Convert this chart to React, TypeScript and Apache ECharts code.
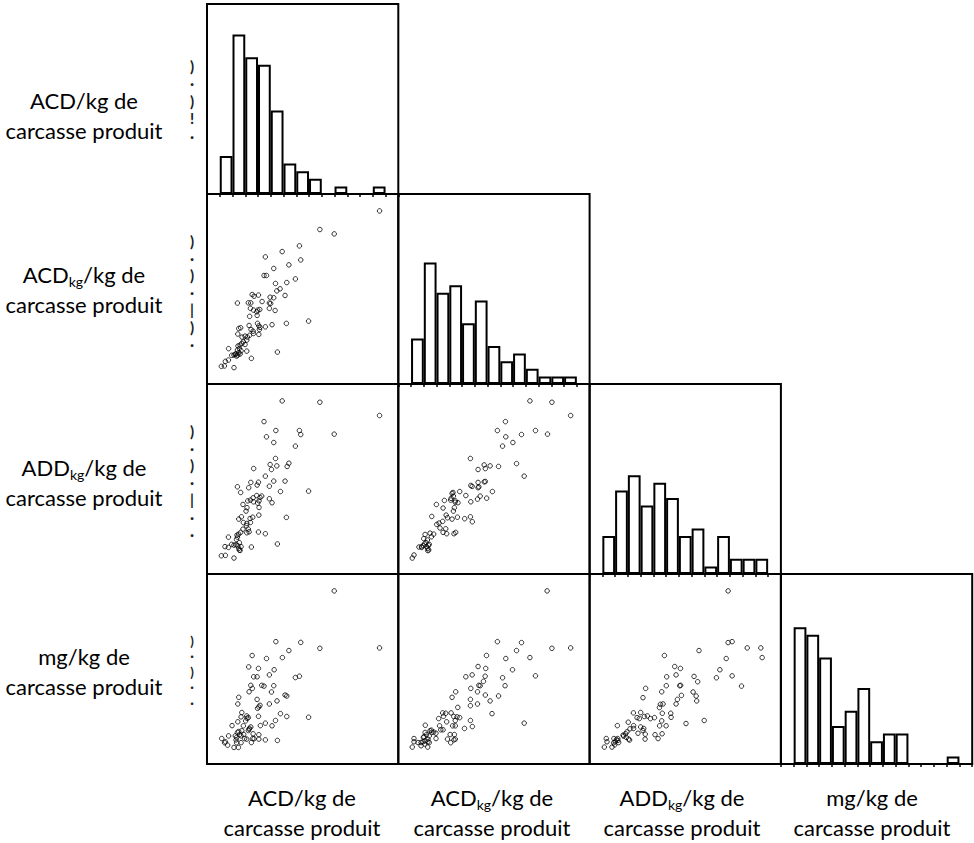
import React, { useEffect, useRef } from "react";
import * as echarts from "echarts";

// Histogram counts per bin (15 equal-width bins spanning each variable's axis)
const binLabels = ["1", "2", "3", "4", "5", "6", "7", "8", "9", "10", "11", "12", "13", "14", "15"];
const histMax = 25;
const histAcd = [0, 5, 21, 18, 17, 11, 4, 3, 2, 0, 1, 0, 0, 1, 0];
const histAcdKg = [0, 6, 16, 12, 13, 8, 11, 5, 3, 4, 2, 1, 1, 1, 0];
const histAddKg = [0, 5, 11, 13, 9, 12, 10, 5, 6, 1, 5, 2, 2, 2, 0];
const histMg = [0, 18, 17, 14, 5, 7, 10, 3, 4, 4, 0, 0, 0, 1, 0];

// Pairwise values on a common 0–100 scale per variable: [x, y]
const acdKgVsAcd = [
  [90.2, 91.1], [59.0, 81.3], [66.5, 79.0], [48.3, 72.7], [39.3, 69.7], [49.0, 65.3], [30.5, 66.9], [42.8, 62.7],
  [34.9, 60.8], [29.8, 57.1], [31.1, 57.1], [46.2, 55.3], [41.7, 53.4], [35.8, 52.9], [38.2, 50.1], [36.5, 49.0],
  [40.8, 46.6], [23.6, 47.1], [24.6, 46.2], [26.9, 46.8], [33.0, 45.7], [34.9, 45.4], [15.9, 42.6], [21.6, 42.7],
  [22.9, 42.7], [28.8, 43.4], [33.3, 42.4], [32.6, 42.6], [22.7, 39.8], [24.3, 38.9], [26.5, 38.9], [27.6, 39.2],
  [26.0, 38.0], [32.6, 39.8], [35.6, 38.7], [22.3, 35.6], [26.2, 36.1], [53.1, 33.1], [41.5, 31.9], [34.0, 31.2],
  [26.4, 31.9], [27.1, 30.6], [27.7, 29.8], [27.4, 28.7], [30.5, 30.1], [22.0, 30.8], [16.6, 29.2], [17.6, 29.6],
  [23.0, 28.7], [24.1, 27.8], [16.1, 26.3], [18.3, 24.7], [19.9, 25.2], [21.1, 24.7], [22.2, 25.6], [27.1, 26.1],
  [24.3, 26.6], [19.0, 22.2], [20.8, 23.1], [19.9, 20.8], [18.2, 21.4], [17.3, 20.5], [16.2, 20.0], [16.9, 18.7],
  [15.9, 17.9], [17.8, 17.5], [16.6, 16.5], [15.2, 15.9], [15.5, 14.7], [14.7, 15.6], [17.3, 15.8], [16.1, 15.2],
  [20.8, 17.3], [11.3, 18.6], [12.9, 15.1], [14.1, 15.2], [36.8, 16.8], [23.2, 13.5], [11.2, 12.6], [9.6, 11.9],
  [9.1, 9.5], [7.5, 9.3], [14.1, 8.6],
];

const addKgVsAcd = [
  [39.3, 91.1], [59.0, 90.4], [90.2, 83.4], [29.8, 80.2], [36.0, 75.5], [48.3, 75.5], [49.0, 73.4], [66.5, 73.6],
  [31.1, 72.2], [34.9, 69.2], [46.2, 67.3], [35.8, 60.8], [33.0, 57.6], [36.5, 56.9], [33.7, 55.0], [41.9, 56.6],
  [42.8, 58.3], [24.4, 55.5], [30.5, 51.5], [34.9, 48.9], [40.8, 48.9], [22.9, 48.2], [26.9, 48.3], [26.2, 46.8],
  [21.8, 45.4], [32.6, 46.2], [38.4, 43.4], [53.1, 43.6], [15.9, 45.9], [17.6, 42.9], [26.0, 41.3], [28.6, 41.0],
  [27.7, 40.3], [24.1, 40.1], [22.7, 38.9], [21.3, 38.5], [27.2, 38.5], [26.5, 37.3], [32.6, 39.6], [34.0, 37.5],
  [18.8, 36.6], [20.9, 34.9], [27.2, 35.0], [27.1, 31.0], [41.5, 29.8], [16.6, 28.9], [18.0, 30.1], [19.0, 27.1],
  [20.8, 26.6], [22.5, 29.2], [23.9, 29.9], [22.7, 27.1], [20.6, 25.4], [26.9, 22.1], [30.5, 21.2], [18.8, 23.6],
  [21.6, 23.6], [20.8, 21.7], [22.0, 22.2], [17.6, 21.9], [16.6, 21.0], [15.7, 20.5], [15.4, 18.2], [11.2, 19.4],
  [16.9, 16.5], [16.1, 14.9], [17.8, 14.4], [15.2, 15.4], [16.6, 13.5], [17.3, 12.4], [14.1, 15.2], [12.9, 15.6],
  [11.2, 14.0], [9.4, 14.4], [23.2, 14.2], [36.8, 15.8], [9.6, 9.8], [7.5, 9.6], [14.1, 8.4], [16.9, 12.6],
  [15.9, 19.4], [20.4, 33.1], [24.3, 38.0],
];

const mgVsAcd = [
  [66.5, 91.1], [36.0, 64.4], [49.0, 64.0], [59.0, 60.9], [90.2, 61.1], [42.8, 59.7], [23.6, 57.1], [31.1, 55.5],
  [39.4, 56.0], [21.8, 51.1], [26.9, 50.3], [35.1, 49.6], [32.6, 46.9], [24.4, 45.9], [26.2, 45.9], [46.2, 45.5],
  [48.3, 46.2], [22.9, 41.4], [23.7, 39.8], [28.6, 41.4], [29.8, 41.0], [34.9, 41.2], [22.0, 38.0], [33.7, 37.9],
  [40.8, 36.3], [41.7, 35.8], [16.6, 35.1], [26.2, 34.0], [16.1, 31.6], [27.7, 30.9], [27.1, 30.0], [26.4, 29.3],
  [32.6, 31.6], [36.6, 33.2], [18.2, 27.1], [20.8, 25.3], [20.9, 24.1], [21.6, 24.4], [17.8, 24.8], [26.9, 25.1],
  [38.4, 26.5], [41.7, 25.0], [53.1, 24.6], [16.1, 22.2], [13.1, 20.2], [19.0, 20.1], [22.9, 19.5], [22.0, 18.3],
  [16.6, 17.1], [15.9, 16.6], [18.2, 17.5], [17.1, 15.5], [27.9, 20.2], [30.5, 21.5], [34.0, 20.1], [35.8, 22.9],
  [11.3, 14.8], [14.8, 14.8], [15.5, 14.0], [17.8, 14.8], [19.2, 15.5], [20.8, 13.1], [24.1, 15.9], [27.1, 15.4],
  [24.6, 13.3], [27.1, 13.1], [30.5, 12.7], [36.8, 12.4], [23.2, 11.3], [7.7, 13.4], [9.6, 11.7], [9.2, 11.2],
  [10.8, 9.9], [14.1, 8.7], [16.4, 8.7], [15.5, 11.2], [17.8, 11.2], [21.6, 17.6], [22.2, 18.8], [19.7, 13.4],
  [23.9, 13.4], [15.2, 12.7], [20.2, 22.7],
];

const addKgVsAcdKg = [
  [68.8, 91.1], [80.3, 90.4], [90.1, 83.4], [56.0, 80.2], [51.8, 75.5], [56.2, 72.2], [64.4, 73.4], [71.7, 75.5],
  [78.0, 73.6], [59.9, 69.2], [54.5, 67.3], [37.7, 60.8], [41.7, 55.0], [44.9, 57.4], [45.5, 55.5], [48.0, 56.9],
  [52.4, 56.6], [61.8, 58.1], [65.8, 51.5], [45.5, 48.7], [44.9, 48.5], [41.7, 48.2], [41.7, 45.4], [42.1, 45.9],
  [37.9, 46.6], [38.6, 46.1], [49.2, 43.4], [46.2, 39.9], [42.8, 41.0], [41.4, 39.4], [37.9, 38.0], [35.3, 41.3],
  [32.1, 43.4], [28.6, 42.9], [28.8, 41.0], [27.4, 38.9], [29.8, 38.5], [31.2, 37.5], [29.3, 34.9], [24.1, 38.7],
  [19.9, 36.6], [23.4, 34.7], [17.5, 30.3], [25.0, 31.0], [25.7, 29.6], [28.1, 28.9], [30.9, 29.9], [34.7, 29.1],
  [37.7, 30.1], [38.7, 27.5], [23.2, 27.7], [21.3, 26.8], [20.1, 26.1], [21.8, 24.2], [24.8, 23.8], [23.4, 21.9],
  [25.3, 21.2], [29.1, 21.2], [30.0, 21.9], [14.0, 20.8], [16.6, 21.5], [18.5, 21.0], [17.3, 19.6], [13.3, 18.6],
  [14.5, 16.5], [15.7, 15.2], [15.4, 13.5], [15.4, 12.3], [16.2, 15.6], [13.6, 15.8], [12.2, 14.4], [10.8, 14.2],
  [15.2, 17.9], [8.2, 10.0], [7.3, 8.4], [12.2, 14.0], [14.8, 14.4], [13.1, 14.9], [15.9, 12.6], [28.8, 33.1],
  [27.6, 39.8], [29.7, 37.8], [28.1, 42.4],
];

const mgVsAcdKg = [
  [77.8, 91.1], [51.8, 64.4], [64.4, 63.9], [80.3, 60.9], [90.1, 61.1], [61.8, 59.7], [46.1, 57.1], [56.2, 55.5],
  [68.8, 56.0], [71.7, 46.4], [59.7, 49.6], [54.5, 45.4], [55.8, 41.2], [35.3, 45.9], [38.6, 46.9], [41.7, 51.3],
  [45.7, 50.3], [45.4, 46.2], [44.5, 43.5], [42.1, 41.4], [42.8, 41.2], [41.4, 38.0], [37.9, 39.8], [30.0, 38.0],
  [28.1, 35.1], [37.7, 34.0], [37.7, 30.7], [41.4, 31.6], [45.5, 36.3], [48.0, 33.2], [52.4, 35.8], [49.0, 26.5],
  [65.8, 21.5], [31.1, 29.8], [24.8, 26.7], [23.2, 26.9], [27.6, 26.9], [23.6, 25.1], [25.3, 22.2], [21.1, 23.9],
  [29.0, 25.0], [30.7, 24.8], [32.1, 24.4], [21.6, 20.1], [23.4, 18.0], [28.4, 20.1], [29.8, 20.1], [34.6, 18.7],
  [37.7, 22.9], [38.7, 19.7], [14.1, 20.4], [17.3, 17.8], [18.5, 16.8], [19.7, 16.2], [14.0, 16.6], [14.7, 15.4],
  [16.2, 14.8], [15.5, 13.1], [15.5, 11.7], [13.1, 14.0], [11.9, 11.3], [12.9, 11.7], [14.0, 12.2], [10.3, 11.3],
  [11.9, 9.6], [8.2, 13.4], [8.2, 11.7], [7.3, 8.9], [19.7, 13.4], [22.2, 18.0], [25.7, 13.1], [27.1, 15.5],
  [29.3, 15.5], [29.1, 12.7], [29.8, 13.1], [27.4, 11.2], [15.4, 8.9], [17.5, 16.6], [16.6, 17.5], [16.2, 11.3],
  [13.8, 10.5], [13.4, 14.3], [29.8, 22.9],
];

const mgVsAddKg = [
  [72.4, 91.1], [72.4, 63.9], [74.5, 64.4], [82.4, 61.1], [89.5, 61.1], [90.2, 56.0], [57.2, 59.7], [71.4, 55.5],
  [39.1, 57.1], [68.1, 49.6], [66.3, 45.4], [74.5, 46.4], [79.4, 41.0], [44.5, 51.3], [47.5, 50.3], [45.2, 46.9],
  [40.3, 45.9], [54.6, 46.1], [56.5, 43.3], [40.1, 41.2], [47.1, 41.2], [47.6, 41.4], [37.7, 38.0], [29.3, 39.8],
  [27.9, 34.9], [48.0, 36.1], [45.9, 34.0], [45.2, 31.6], [54.1, 37.9], [55.7, 35.8], [56.0, 33.2], [37.0, 31.4],
  [36.5, 29.7], [38.4, 31.6], [50.4, 21.3], [59.9, 22.9], [38.0, 26.7], [42.4, 26.7], [42.6, 24.6], [37.7, 22.7],
  [40.0, 20.1], [36.6, 20.1], [33.9, 24.4], [22.9, 26.9], [26.7, 27.1], [26.0, 23.9], [28.6, 25.0], [30.2, 25.3],
  [23.0, 20.2], [26.7, 19.5], [28.3, 18.7], [25.3, 16.2], [29.1, 15.7], [29.0, 13.1], [34.2, 15.4], [35.8, 13.4],
  [37.9, 15.9], [20.2, 22.0], [14.5, 20.2], [21.1, 18.5], [17.5, 15.2], [18.8, 15.9], [19.5, 16.9], [20.4, 13.1],
  [20.9, 12.6], [14.0, 12.9], [13.4, 11.7], [14.7, 13.4], [12.6, 11.2], [11.7, 8.9], [8.7, 13.4], [9.1, 11.7],
  [7.7, 8.9], [15.2, 11.3], [17.8, 14.7], [19.2, 14.0], [31.8, 23.9], [24.8, 24.4], [13.1, 10.1], [27.9, 17.6],
  [23.0, 18.7], [14.8, 12.4], [12.7, 13.4],
];

// Variable names: [main, subscript]
const varNames: [string, string][] = [
  ["ACD", ""],
  ["ACD", "kg"],
  ["ADD", "kg"],
  ["mg", ""],
];
const unitText = "/kg de";
const secondLine = "carcasse produit";

const histograms = [histAcd, histAcdKg, histAddKg, histMg];
// scatter[row][col] for the lower triangle
const scatters: Record<string, number[][]> = {
  "1-0": acdKgVsAcd,
  "2-0": addKgVsAcd,
  "3-0": mgVsAcd,
  "2-1": addKgVsAcdKg,
  "3-1": mgVsAcdKg,
  "3-2": mgVsAddKg,
};

// Clipped vertical axis label fragments to the left of each row
const edgeMarks: string[] = [
  ")\n·\n)\n!\n·",
  ")\n·\n)\n·\n|\n)\n·",
  ")\n·\n)\n·\n|\n·\n·",
  ")\n·\n)\n·\n·",
];
const edgeMarkTop = [57, 232, 422, 633];
const edgeMarkStep = [17.5, 17.2, 17.2, 15.5];
const edgeMarkSize = [15, 15, 15, 13];

const FONT = "Lato, 'Open Sans', sans-serif";
const PANEL_LEFT = 207;
const PANEL_TOP = 4;
const PANEL_W = 191.3;
const PANEL_H = 190;

const rowLabelX = 84;
const rowLabelY = [115, 289, 482, 671];
const colLabelX = [302, 492, 682, 872];
const colLabelY = 812;

function labelText(k: number) {
  const [main, sub] = varNames[k];
  const first = sub ? `{n|${main}}{s|${sub}}{n|${unitText}}` : `{n|${main}${unitText}}`;
  return `${first}\n{n|${secondLine}}`;
}

const richStyle = {
  n: { fontFamily: FONT, fontSize: 22, lineHeight: 30, color: "#000" },
  s: { fontFamily: FONT, fontSize: 14, lineHeight: 15, height: 15, verticalAlign: "bottom", color: "#000" },
};

function buildOption() {
  const grid: any[] = [];
  const xAxis: any[] = [];
  const yAxis: any[] = [];
  const series: any[] = [];

  for (let i = 0; i < 4; i++) {
    for (let j = 0; j <= i; j++) {
      const gi = grid.length;
      grid.push({
        left: PANEL_LEFT + j * PANEL_W,
        top: PANEL_TOP + i * PANEL_H,
        width: PANEL_W,
        height: PANEL_H,
        show: true,
        borderColor: "#000",
        borderWidth: 2,
        backgroundColor: "transparent",
      });
      if (i === j) {
        xAxis.push({
          type: "category",
          gridIndex: gi,
          data: binLabels,
          boundaryGap: true,
          axisLine: { show: true, lineStyle: { color: "#000", width: 2 } },
          axisTick: { show: true, interval: 0, length: 3, lineStyle: { color: "#000", width: 1.5 } },
          axisLabel: { show: false, interval: 0 },
          splitLine: { show: false },
        });
        yAxis.push({ type: "value", gridIndex: gi, min: 0, max: histMax, show: false, splitLine: { show: false } });
        series.push({
          type: "bar",
          xAxisIndex: gi,
          yAxisIndex: gi,
          data: histograms[i],
          barCategoryGap: "0%",
          itemStyle: { color: "#fff", borderColor: "#000", borderWidth: 2 },
        });
      } else {
        xAxis.push({ type: "value", gridIndex: gi, min: 0, max: 100, show: false, splitLine: { show: false } });
        yAxis.push({ type: "value", gridIndex: gi, min: 0, max: 100, show: false, splitLine: { show: false } });
        series.push({
          type: "scatter",
          xAxisIndex: gi,
          yAxisIndex: gi,
          data: scatters[`${i}-${j}`],
          symbol: "circle",
          symbolSize: 4.5,
          itemStyle: { color: "rgba(255,255,255,0)", borderColor: "#000", borderWidth: 1 },
        });
      }
    }
  }

  const graphic: any[] = [];
  for (let k = 0; k < 4; k++) {
    graphic.push({
      type: "text",
      x: rowLabelX,
      y: rowLabelY[k],
      style: { text: labelText(k), rich: richStyle, align: "center", verticalAlign: "middle", fill: "#000" },
    });
    graphic.push({
      type: "text",
      x: colLabelX[k],
      y: colLabelY,
      style: { text: labelText(k), rich: richStyle, align: "center", verticalAlign: "middle", fill: "#000" },
    });
    graphic.push({
      type: "text",
      x: 192,
      y: edgeMarkTop[k],
      style: {
        text: edgeMarks[k],
        font: `bold ${edgeMarkSize[k]}px ${FONT}`,
        lineHeight: edgeMarkStep[k],
        fill: "#222",
        align: "center",
        verticalAlign: "top",
      },
    });
  }

  return {
    animation: false,
    backgroundColor: "#fff",
    grid,
    xAxis,
    yAxis,
    series,
    graphic,
  };
}

export default function App() {
  const ref = useRef<HTMLDivElement>(null);
  useEffect(() => {
    if (!ref.current) return;
    const chart = echarts.init(ref.current, undefined, { renderer: "svg" });
    chart.setOption(buildOption() as any);
    return () => chart.dispose();
  }, []);
  return (
    <div
      ref={ref}
      style={{ position: "absolute", left: 0, top: 0, width: 974, height: 843 }}
    />
  );
}
